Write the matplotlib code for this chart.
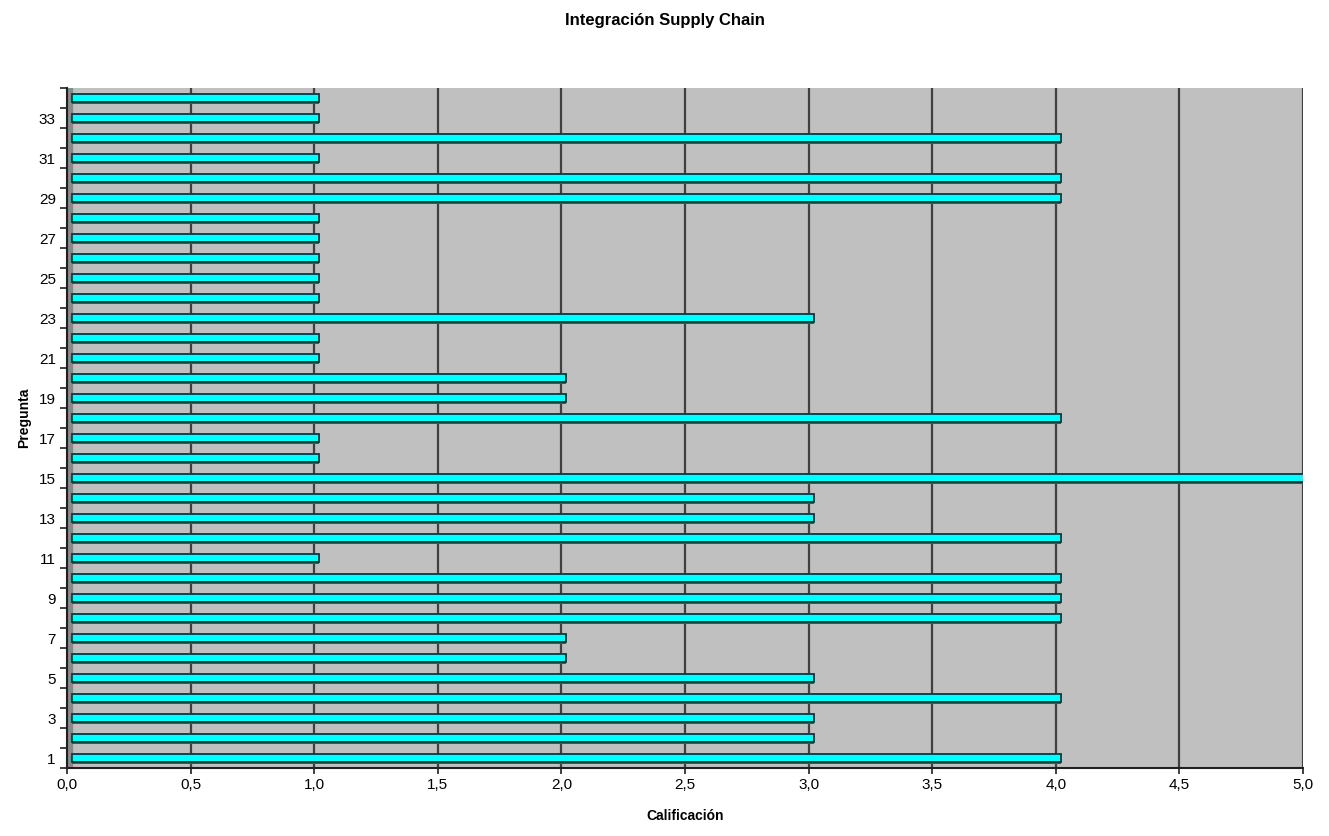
import matplotlib.pyplot as plt
import numpy as np

# %% Data
preguntas = list(range(1, 35))
calificacion = [4, 3, 3, 4, 3, 2, 2, 4, 4, 4,
                1, 4, 3, 3, 5, 1, 1, 4, 2, 2,
                1, 1, 3, 1, 1, 1, 1, 1, 4, 4,
                1, 4, 1, 1]
xticks = [0, 0.5, 1, 1.5, 2, 2.5, 3, 3.5, 4, 4.5, 5]
xticklabels = ['0,0', '0,5', '1,0', '1,5', '2,0', '2,5', '3,0', '3,5', '4,0', '4,5', '5,0']

plt.rcParams['font.family'] = ['Liberation Sans', 'DejaVu Sans']

# %% Plot
fig = plt.figure(figsize=(13.29, 8.36), dpi=100)
ax = fig.add_axes([0.0504, 0.0813, 0.93, 0.8134])
ax.set_facecolor('#c0c0c0')

# left wall (3D look)
ax.axvspan(0, 0.02, color='#8a8a8a', zorder=1)

for x in xticks[1:]:
    ax.axvline(x, color='#404040', lw=1.6, zorder=1)

y = np.array(preguntas)
# shadow under bars
ax.barh(y - 0.06, calificacion, height=0.5, left=0.02, color='#505050', zorder=2)
ax.barh(y, calificacion, height=0.42, left=0.02, color='#00ffff',
        edgecolor='#003c3c', linewidth=1.3, zorder=3)

ax.set_xlim(0, 5)
ax.set_ylim(0.5, 34.5)
ax.set_xticks(xticks)
ax.set_xticklabels(xticklabels, fontsize=11)
ax.set_yticks(preguntas[::2])
ax.set_yticklabels([str(p) for p in preguntas[::2]], fontsize=11)
ax.set_yticks(np.arange(0.5, 35, 1), minor=True)
ax.tick_params(axis='y', which='major', length=0, pad=8)
ax.tick_params(axis='y', which='minor', length=5, width=1.2, color='#202020')
ax.tick_params(axis='x', length=4, width=1.2, color='#202020')

for s in ['top', 'right']:
    ax.spines[s].set_visible(False)
ax.spines['left'].set_color('#202020')
ax.spines['left'].set_linewidth(1.5)
ax.spines['bottom'].set_color('#202020')
ax.spines['bottom'].set_linewidth(1.5)

ax.set_xlabel('Calificación', fontsize=10, fontweight='bold', labelpad=12)
fig.text(0.018, 0.5, 'Pregunta', rotation=90, fontsize=10, fontweight='bold',
         va='center', ha='center')
fig.text(0.5, 0.975, 'Integración Supply Chain', fontsize=12, fontweight='bold',
         ha='center', va='center')

plt.savefig('out.png', dpi=100)
